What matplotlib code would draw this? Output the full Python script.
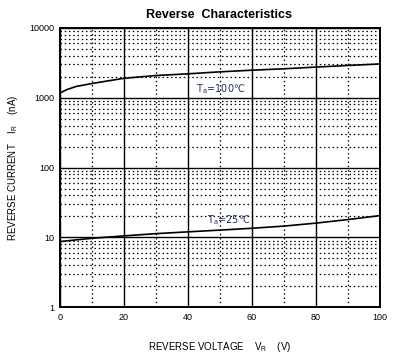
import numpy as np
import matplotlib.pyplot as plt
from matplotlib.ticker import FixedLocator, LogLocator, NullFormatter

plt.rcParams['font.family'] = ['Liberation Sans', 'DejaVu Sans']

# reverse voltage (V) and reverse current (nA)
v = [0, 2, 5, 10, 20, 30, 40, 50, 60, 70, 80, 90, 100]
i_100 = [1170, 1300, 1450, 1600, 1900, 2080, 2200, 2350, 2480, 2600, 2750, 2900, 3050]
i_25 = [8.7, 8.9, 9.2, 9.7, 10.5, 11.3, 12.0, 12.7, 13.5, 14.5, 16.0, 18.0, 20.5]

fig = plt.figure(figsize=(4.14, 3.58), dpi=100)
ax = fig.add_axes([0.145, 0.142, 0.773, 0.780])

ax.semilogy(v, i_100, color='black', lw=1.2)
ax.semilogy(v, i_25, color='black', lw=1.2)

ax.set_xlim(0, 100)
ax.set_ylim(1, 10000)
ax.xaxis.set_major_locator(FixedLocator([0, 20, 40, 60, 80, 100]))
ax.xaxis.set_minor_locator(FixedLocator([10, 30, 50, 70, 90]))
ax.yaxis.set_minor_locator(LogLocator(base=10, subs=np.arange(2, 10), numticks=20))
ax.yaxis.set_minor_formatter(NullFormatter())
ax.set_yticks([1, 10, 100, 1000, 10000])
ax.set_yticklabels(['1', '10', '100', '1000', '10000'])

ax.grid(which='major', color='black', lw=1.0, ls='-')
ax.grid(which='minor', color='black', lw=0.9, ls=(0, (1.2, 2.2)))
ax.tick_params(which='both', length=0, labelsize=6.5, pad=4)
for s in ax.spines.values():
    s.set_linewidth(1.4)

lab = dict(fontsize=7, color='#203060', family='DejaVu Sans', va='center')
ax.text(42.5, 1340, 'T$_\\mathregular{a}$=100℃', **lab)
ax.text(46, 17.5, 'T$_\\mathregular{a}$=25℃', **lab)

fig.text(0.53, 0.958, 'Reverse  Characteristics', ha='center', va='center',
         fontsize=9, fontweight='bold')
ax.set_xlabel(r'REVERSE VOLTAGE    V$_\mathregular{R}$    (V)', fontsize=7)
ax.set_ylabel(r'REVERSE CURRENT    I$_\mathregular{R}$    (nA)', fontsize=7)
ax.xaxis.set_label_coords(0.5, -0.118)
ax.yaxis.set_label_coords(-0.125, 0.5)

fig.savefig('out.png', dpi=100)
